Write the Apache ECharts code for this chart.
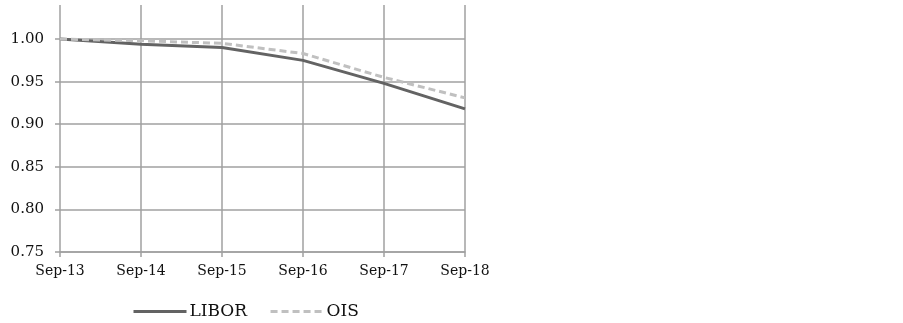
<!DOCTYPE html>
<html><head><meta charset="utf-8">
<script src="https://cdn.jsdelivr.net/npm/echarts@6/dist/echarts.min.js"></script>
<style>html,body{margin:0;padding:0;background:#fff}#c{width:903px;height:323px}</style>
</head><body><div id="c"></div>
<script>
var categories = ['Sep-13','Sep-14','Sep-15','Sep-16','Sep-17','Sep-18'];
var libor = [1.000, 0.994, 0.990, 0.975, 0.948, 0.918];
var ois = [1.000, 0.998, 0.995, 0.983, 0.955, 0.931];
var yMin = 0.75, yMax = 1.04, yStep = 0.05;

var gridColor = '#a0a0a0';
var font = 'DejaVu Serif';
var chart = echarts.init(document.getElementById('c'), null, {renderer:'canvas'});
chart.setOption({
  animation: false,
  backgroundColor: '#fff',
  grid: {left: 60, right: 438, top: 5, bottom: 71, containLabel: false},
  legend: {
    left: 132, top: 303, padding: 0, itemWidth: 53, itemHeight: 14, itemGap: 22,
    itemStyle: {opacity: 0},
    lineStyle: {width: 3},
    textStyle: {fontFamily: font, fontSize: 17, color: '#111', padding: [0, 0, 0, -2]},
    data: ['LIBOR', 'OIS']
  },
  xAxis: {
    type: 'category', data: categories, boundaryGap: false,
    axisLine: {show: true, lineStyle: {color: gridColor, width: 1.5}},
    axisTick: {show: true, length: 5, lineStyle: {color: gridColor, width: 1.5}},
    splitLine: {show: true, lineStyle: {color: gridColor, width: 1.5}},
    axisLabel: {fontFamily: font, fontSize: 14, color: '#111', margin: 12}
  },
  yAxis: {
    type: 'value', min: yMin, max: yMax, interval: yStep,
    axisLine: {show: false},
    axisTick: {show: true, length: 5, lineStyle: {color: gridColor, width: 1.5}},
    splitLine: {show: true, showMaxLine: false, lineStyle: {color: gridColor, width: 1.5}},
    axisLabel: {fontFamily: font, fontSize: 15, color: '#111', margin: 16, showMaxLabel: false,
      formatter: function(v){ return v.toFixed(2); }}
  },
  series: [
    {name: 'LIBOR', type: 'line', data: libor, symbol: 'none',
     lineStyle: {color: '#636363', width: 3}, itemStyle: {color: '#636363'}},
    {name: 'OIS', type: 'line', data: ois, symbol: 'none',
     lineStyle: {color: '#c0c0c0', width: 3, type: [7, 4]}, itemStyle: {color: '#c0c0c0'}}
  ]
});
</script></body></html>
